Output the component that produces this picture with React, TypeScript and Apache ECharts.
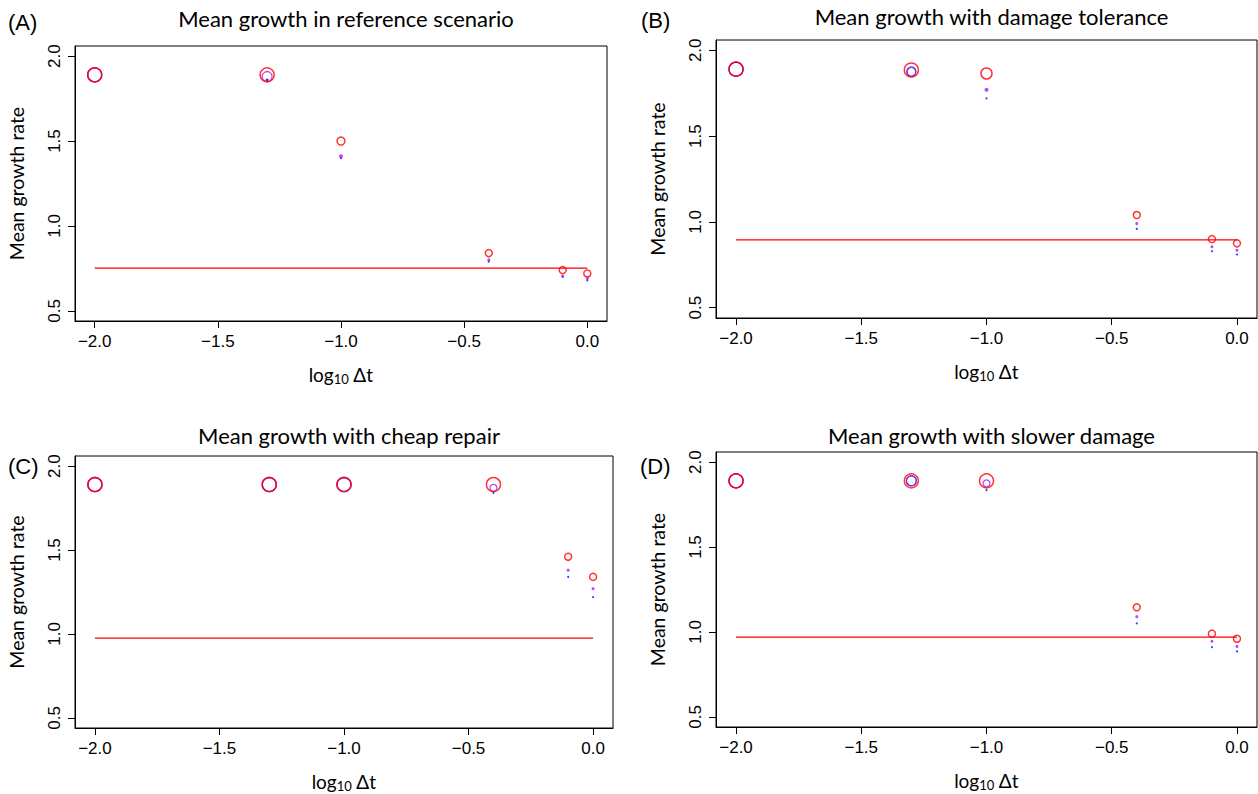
import React, { useEffect, useRef } from "react";
import * as echarts from "echarts";

const xVals = [-2, -1.3, -1, -0.4, -0.1, 0];
const xTicks = [-2, -1.5, -1, -0.5, 0];
const yTicks = [0.5, 1, 1.5, 2];

const titles = [
  "Mean growth in reference scenario",
  "Mean growth with damage tolerance",
  "Mean growth with cheap repair",
  "Mean growth with slower damage",
];
const letters = ["(A)", "(B)", "(C)", "(D)"];

const redA = [1.89, 1.89, 1.5, 0.84, 0.74, 0.72];
const purpleA = [1.89, 1.88, 1.41, 0.8, 0.705, 0.69];
const blueA = [1.89, 1.86, 1.4, 0.79, 0.7, 0.68];
const lineA = 0.752;

const redB = [1.89, 1.885, 1.865, 1.04, 0.9, 0.875];
const purpleB = [1.89, 1.875, 1.77, 0.99, 0.855, 0.835];
const blueB = [1.89, 1.875, 1.72, 0.96, 0.83, 0.81];
const lineB = 0.895;

const redC = [1.89, 1.89, 1.89, 1.89, 1.46, 1.34];
const purpleC = [1.89, 1.89, 1.89, 1.87, 1.38, 1.27];
const blueC = [1.89, 1.89, 1.89, 1.84, 1.34, 1.22];
const lineC = 0.975;

const redD = [1.89, 1.89, 1.89, 1.145, 0.99, 0.96];
const purpleD = [1.89, 1.89, 1.875, 1.09, 0.945, 0.915];
const blueD = [1.89, 1.89, 1.835, 1.05, 0.91, 0.885];
const lineD = 0.97;

const redSizeA = [14, 14, 8, 7, 7, 7];
const purpleSizeA = [14, 10, 4, 3, 3, 3];
const blueSizeA = [14, 3, 2, 2, 2, 2];
const redSizeB = [14, 14, 11, 7, 7, 7];
const purpleSizeB = [14, 9, 4, 3, 3, 3];
const blueSizeB = [14, 9, 2, 2, 2, 2];
const redSizeC = [14, 14, 14, 14, 7, 7];
const purpleSizeC = [14, 14, 14, 7, 3, 3];
const blueSizeC = [14, 14, 14, 2, 2, 2];
const redSizeD = [14, 14, 14, 7, 7, 7];
const purpleSizeD = [14, 10, 7, 3, 3, 3];
const blueSizeD = [14, 10, 2, 2, 2, 2];

const panels = [
  { red: redA, purple: purpleA, blue: blueA, line: lineA, rs: redSizeA, ps: purpleSizeA, bs: blueSizeA },
  { red: redB, purple: purpleB, blue: blueB, line: lineB, rs: redSizeB, ps: purpleSizeB, bs: blueSizeB },
  { red: redC, purple: purpleC, blue: blueC, line: lineC, rs: redSizeC, ps: purpleSizeC, bs: blueSizeC },
  { red: redD, purple: purpleD, blue: blueD, line: lineD, rs: redSizeD, ps: purpleSizeD, bs: blueSizeD },
];

const grids = [
  { left: 75, top: 46, width: 532, height: 275 },
  { left: 716, top: 40, width: 541, height: 278 },
  { left: 75, top: 456, width: 538, height: 272 },
  { left: 716, top: 452, width: 541, height: 275 },
];
const titleTops = [2, 0, 419, 419];
const letterPos = [
  { left: 8, top: 11 },
  { left: 641, top: 9 },
  { left: 8, top: 455 },
  { left: 640, top: 455 },
];

const RED = "#FF0000";
const PURPLE = "#A020F0";
const BLUE = "#0000FF";

const fmt = (v: number) => v.toFixed(1).replace("-", "\u2212");

function scatter(i: number, ys: number[], sizes: number[], color: string, bw: number, z: number) {
  return {
    type: "scatter",
    xAxisIndex: i,
    yAxisIndex: i,
    color,
    data: ys.map((y, k) => ({
      value: [xVals[k], y],
      symbolSize: sizes[k],
      itemStyle: {
        color: sizes[k] <= 4 ? color : "rgba(0,0,0,0)",
        borderColor: color,
        borderWidth: sizes[k] <= 4 ? 0 : bw,
      },
    })),
    symbol: "circle",
    z,
  };
}

export default function App() {
  const ref = useRef<HTMLDivElement>(null);
  useEffect(() => {
    const chart = echarts.init(ref.current!, null, { renderer: "svg" });
    const series: any[] = [];
    panels.forEach((p, i) => {
      series.push({
        type: "line",
        xAxisIndex: i,
        yAxisIndex: i,
        color: RED,
        data: [
          [xVals[0], p.line],
          [xVals[xVals.length - 1], p.line],
        ],
        symbol: "none",
        itemStyle: { color: RED },
        lineStyle: { color: RED, width: 1.2 },
        z: 2,
      });
      series.push(scatter(i, p.blue, p.bs, BLUE, 1.3, 3));
      series.push(scatter(i, p.purple, p.ps, PURPLE, 1.3, 4));
      series.push(scatter(i, p.red, p.rs, RED, 1.5, 5));
    });
    const option: any = {
      animation: false,
      backgroundColor: "#fff",
      title: grids.map((g, i) => ({
        text: titles[i],
        left: g.left + g.width / 2,
        top: titleTops[i],
        textAlign: "center",
        textStyle: { fontFamily: "Lato", fontSize: 22, fontWeight: "normal", color: "#000" },
      })),
      graphic: letterPos.map((lp, i) => ({
        type: "text",
        left: lp.left,
        top: lp.top,
        style: { text: letters[i], font: "22px 'Liberation Sans'", fill: "#000" },
      })),
      grid: grids.map((g) => ({
        ...g,
        show: true,
        borderColor: "#000",
        borderWidth: 1,
        backgroundColor: "rgba(0,0,0,0)",
        containLabel: false,
      })),
      xAxis: grids.map((g, i) => ({
        type: "value",
        gridIndex: i,
        min: -2.08,
        max: 0.08,
        splitLine: { show: false },
        axisLine: { show: true, onZero: false, lineStyle: { color: "#000", width: 1 } },
        axisTick: { show: true, customValues: xTicks, length: 7, lineStyle: { color: "#000" } },
        axisLabel: {
          customValues: xTicks,
          formatter: fmt,
          fontSize: 17,
          fontFamily: "Liberation Sans",
          color: "#000",
          margin: 12,
        },
        name: "{a|log}{s|10}{a| \u0394t}",
        nameLocation: "middle",
        nameGap: 43,
        nameTextStyle: {
          rich: {
            a: { fontFamily: "Lato", fontSize: 19, color: "#000" },
            s: { fontFamily: "Lato", fontSize: 13, color: "#000", padding: [8, 0, 0, 0] },
          },
        },
      })),
      yAxis: grids.map((g, i) => ({
        type: "value",
        gridIndex: i,
        min: 0.44,
        max: 2.06,
        splitLine: { show: false },
        axisLine: { show: true, onZero: false, lineStyle: { color: "#000", width: 1 } },
        axisTick: { show: true, customValues: yTicks, length: 7, lineStyle: { color: "#000" } },
        axisLabel: {
          customValues: yTicks,
          formatter: fmt,
          rotate: 90,
          fontSize: 17,
          fontFamily: "Liberation Sans",
          color: "#000",
          margin: 12,
        },
        name: "Mean growth rate",
        nameLocation: "middle",
        nameGap: 49,
        nameRotate: 90,
        nameTextStyle: { fontFamily: "Lato", fontSize: 19.5, color: "#000" },
      })),
      series,
    };
    chart.setOption(option);
    return () => chart.dispose();
  }, []);
  return (
    <div
      ref={ref}
      style={{ position: "absolute", left: 0, top: 0, width: 1258, height: 794 }}
    />
  );
}
